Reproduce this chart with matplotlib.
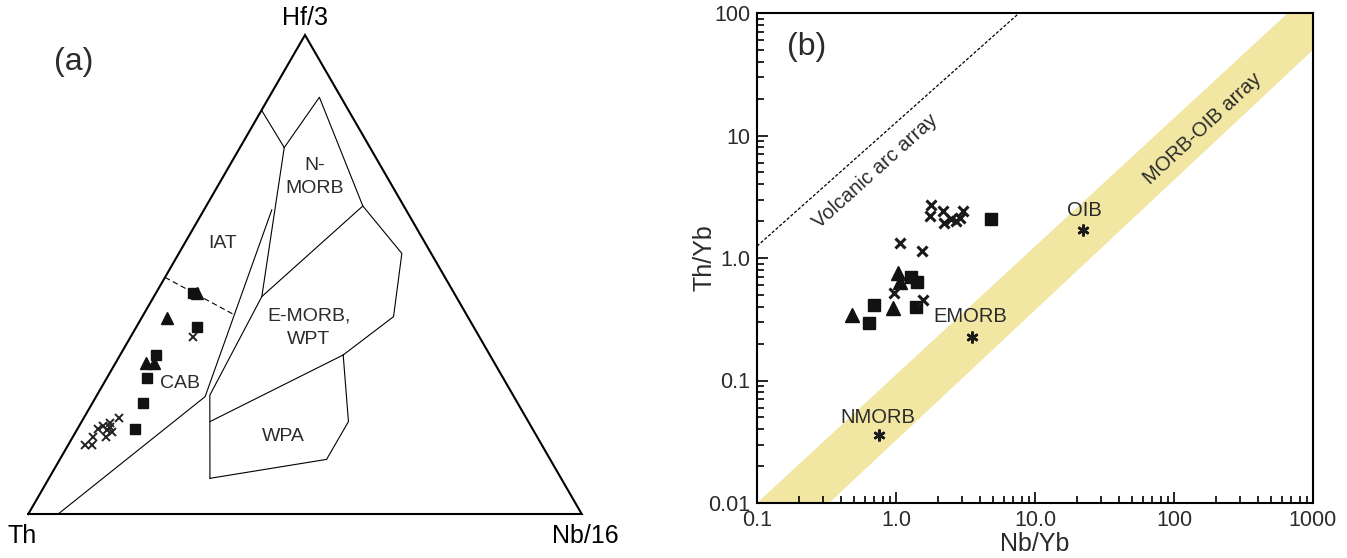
import numpy as np
import matplotlib
matplotlib.use("Agg")
import matplotlib.pyplot as plt

plt.rcParams['font.family'] = ['Liberation Sans', 'DejaVu Sans']

# ---- (a) Hf/3 - Th - Nb/16 ternary (fractions of Hf/3 and Nb/16; Th = rest) ----
iat_top_hf = [0.843, 0.765]
iat_top_nb = [0.0, 0.080]
nmorb_hf = [0.765, 0.870, 0.643, 0.544, 0.412, 0.332]
nmorb_nb = [0.080, 0.091, 0.283, 0.403, 0.454, 0.403]
nmorb_emorb_hf = [0.643, 0.454]
nmorb_emorb_nb = [0.283, 0.195]
left_bound_hf = [0.765, 0.454, 0.248, 0.0745]
left_bound_nb = [0.080, 0.195, 0.204, 0.291]
emorb_wpa_hf = [0.332, 0.193]
emorb_wpa_nb = [0.403, 0.232]
wpa_hf = [0.332, 0.193, 0.114, 0.0745]
wpa_nb = [0.403, 0.482, 0.482, 0.291]
cab_hf = [0.635, 0.245, 0.0]
cab_nb = [0.1225, 0.197, 0.054]
dash_hf = [0.494, 0.417]
dash_nb = [0.0, 0.162]

sq_hf = [0.462, 0.391, 0.332, 0.283, 0.231, 0.177]
sq_nb = [0.067, 0.109, 0.065, 0.073, 0.092, 0.104]
tri_hf = [0.461, 0.409, 0.315, 0.315]
tri_nb = [0.074, 0.047, 0.055, 0.069]
x_hf = [0.370, 0.144, 0.144, 0.161, 0.177, 0.161, 0.175, 0.182, 0.172, 0.200, 0.191, 0.184]
x_nb = [0.112, 0.031, 0.044, 0.037, 0.038, 0.060, 0.055, 0.057, 0.065, 0.063, 0.052, 0.043]

field_names = ['IAT', 'N-\nMORB', 'E-MORB,\nWPT', 'WPA', 'CAB']

# ---- (b) Th/Yb vs Nb/Yb ----
sq_nbyb = [4.80, 1.28, 1.41, 0.695, 0.643, 1.39]
sq_thyb = [2.07, 0.696, 0.633, 0.413, 0.296, 0.396]
tri_nbyb = [1.04, 1.07, 0.947, 0.48]
tri_thyb = [0.75, 0.64, 0.389, 0.342]
x_nbyb = [1.78, 1.76, 2.17, 2.21, 2.47, 2.70, 3.02, 2.89, 1.07, 1.53, 0.97, 1.57]
x_thyb = [2.71, 2.20, 2.43, 1.94, 2.07, 2.02, 2.43, 2.11, 1.33, 1.13, 0.515, 0.454]

ref_names = ['NMORB', 'EMORB', 'OIB']
ref_nbyb = [0.76, 3.5, 22.2]
ref_thyb = [0.036, 0.227, 1.7]

band_x = [0.1, 660, 1000, 1000, 0.33]
band_y = [0.01, 100, 100, 50, 0.01]
arc_x = [0.1, 7.7]
arc_y = [1.25, 100]

xticks = [0.1, 1, 10, 100, 1000]
xticklabels = ['0.1', '1.0', '10.0', '100', '1000']
yticks = [0.01, 0.1, 1, 10, 100]
yticklabels = ['0.01', '0.1', '1.0', '10', '100']

TXT = '#2b2b2b'
H = np.sqrt(3) / 2


def cart(hf, nb):
    hf = np.asarray(hf)
    nb = np.asarray(nb)
    return nb + hf / 2, hf * H


fig = plt.figure(figsize=(13.47, 5.58), dpi=100)

# ---------------- panel (a) ----------------
ax1 = fig.add_axes([28.3 / 1347, 44 / 558, 553.4 / 1347, 479 / 558])
ax1.set_xlim(0, 1)
ax1.set_ylim(0, H)
ax1.axis('off')

ax1.plot([0, 1, 0.5, 0], [0, 0, H, 0], color='k', lw=1.5, clip_on=False,
         solid_joinstyle='miter')
for hf, nb in [(iat_top_hf, iat_top_nb), (nmorb_hf, nmorb_nb),
               (nmorb_emorb_hf, nmorb_emorb_nb), (left_bound_hf, left_bound_nb),
               (emorb_wpa_hf, emorb_wpa_nb), (wpa_hf, wpa_nb), (cab_hf, cab_nb)]:
    ax1.plot(*cart(hf, nb), color='k', lw=0.8)
ax1.plot(*cart(dash_hf, dash_nb), color='k', lw=0.8, ls=(0, (5, 3)))

ax1.plot(*cart(sq_hf, sq_nb), 's', color='#111', ms=7, ls='none')
ax1.plot(*cart(tri_hf, tri_nb), '^', color='#111', ms=8.5, ls='none')
ax1.plot(*cart(x_hf, x_nb), 'x', color='#222', ms=6, mew=1.4, ls='none')

label_pos = [(0.352, 0.489), (0.518, 0.609), (0.507, 0.337), (0.461, 0.141), (0.275, 0.236)]
for name, (lx, ly) in zip(field_names, label_pos):
    ax1.text(lx, ly, name, ha='center', va='center', fontsize=14,
             color=TXT, linespacing=1.5, multialignment='center')

ax1.text(0.5, 0.897, 'Hf/3', ha='center', va='center', fontsize=18, color='k', clip_on=False)
ax1.text(-0.012, -0.040, 'Th', ha='center', va='center', fontsize=18, color='k', clip_on=False)
ax1.text(1.007, -0.040, 'Nb/16', ha='center', va='center', fontsize=18, color='k', clip_on=False)
ax1.text(0.082, 0.817, '(a)', ha='center', va='center', fontsize=23, color=TXT)

# ---------------- panel (b) ----------------
ax2 = fig.add_axes([757 / 1347, 55 / 558, 556 / 1347, 490 / 558])
ax2.set_xscale('log')
ax2.set_yscale('log')
ax2.set_xlim(0.1, 1000)
ax2.set_ylim(0.01, 100)

ax2.fill(band_x, band_y, color='#f1e6a2', lw=0, zorder=1)
ax2.plot(arc_x, arc_y, color='k', lw=0.9, ls=(0, (2.5, 1.5)), zorder=2)

ax2.plot(sq_nbyb, sq_thyb, 's', color='#111', ms=8, ls='none', zorder=4)
ax2.plot(tri_nbyb, tri_thyb, '^', color='#111', ms=9.5, ls='none', zorder=4)
ax2.plot(x_nbyb, x_thyb, 'x', color='#1a1a1a', ms=7, mew=2.2, ls='none', zorder=4)
ax2.plot(ref_nbyb, ref_thyb, marker=(6, 2, 0), color='#1a1a1a', ms=8.5, mew=1.8,
         ls='none', zorder=4)

ref_text = [(0.74, 0.050), (3.43, 0.33), (22.5, 2.42)]
for name, (tx, ty) in zip(ref_names, ref_text):
    ax2.text(tx, ty, name, ha='center', va='center', fontsize=14.5, color=TXT)

ax2.text(0.706, 5.1, 'Volcanic arc array', rotation=42, ha='center', va='center',
         fontsize=14.5, color=TXT, rotation_mode='anchor')
ax2.text(161, 11.4, 'MORB-OIB array', rotation=43, ha='center', va='center',
         fontsize=14.5, color=TXT, rotation_mode='anchor')
ax2.text(0.089, 0.931, '(b)', transform=ax2.transAxes, ha='center', va='center',
         fontsize=23, color=TXT)

ax2.set_xticks(xticks)
ax2.set_xticklabels(xticklabels)
ax2.set_yticks(yticks)
ax2.set_yticklabels(yticklabels)
ax2.tick_params(which='both', direction='in', top=False, right=False,
                labelsize=15.5, labelcolor=TXT, width=1.2)
ax2.tick_params(which='major', length=8, pad=5)
ax2.tick_params(which='minor', length=5)
for s in ax2.spines.values():
    s.set_linewidth(1.5)

ax2.set_xlabel('Nb/Yb', fontsize=18, color=TXT, labelpad=1)
ax2.set_ylabel('Th/Yb', fontsize=18, color=TXT, labelpad=-6)

fig.savefig('out.png', dpi=100)
